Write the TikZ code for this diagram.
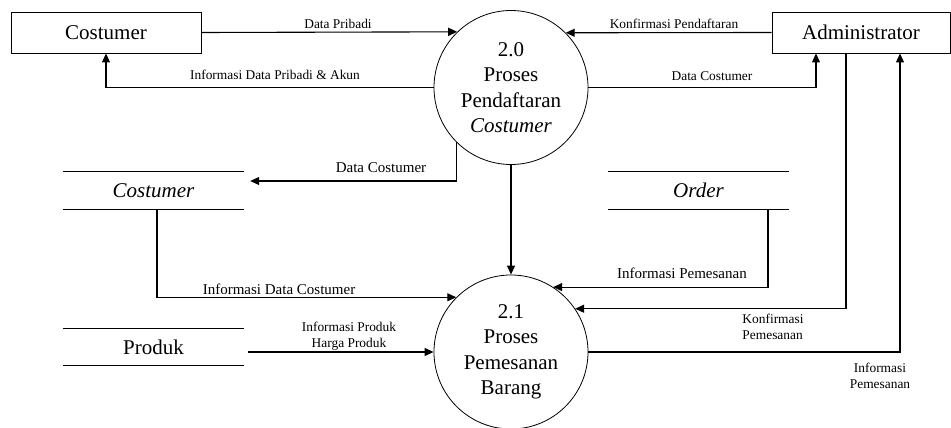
\documentclass[tikz,border=0pt]{standalone}
\usepackage{fontspec}
\setmainfont{Liberation Serif}
\usetikzlibrary{arrows.meta,calc}

\tikzset{
  big/.style={font=\fontsize{21}{25.5}\selectfont},
  lbl/.style={font=\fontsize{13.4}{16.5}\selectfont, inner sep=0pt, align=center},
  lblm/.style={font=\fontsize{15}{18}\selectfont, inner sep=0pt},
  entity/.style={draw, line width=0.9pt, minimum height=41pt, inner sep=0pt, big},
  proc/.style={draw, circle, line width=0.8pt, minimum size=154pt, inner sep=0pt, align=center, big},
  store/.style={minimum width=181pt, minimum height=37pt, inner sep=0pt, big},
  storeline/.style={line width=1pt},
  flow/.style={line width=1.1pt, -{Triangle[length=9pt,width=8pt]}},
}

\begin{document}
\begin{tikzpicture}[x=1pt,y=1pt]
  \useasboundingbox (0,0) rectangle (951,-428);

  % external entities
  \node[entity, minimum width=190pt] (cos) at (106,-32.5) {Costumer};
  \node[entity, minimum width=178pt] (adm) at (861,-32.5) {Administrator};

  % processes
  \node[proc] (p20) at (511,-87.5) {2.0\\Proses\\Pendaftaran\\\textit{Costumer}};
  \node[proc] (p21) at (511,-352) {2.1\\Proses\\Pemesanan\\Barang};

  % data stores
  \node[store] (cst) at (153.5,-190.5) {\textit{Costumer}};
  \node[store] (ord) at (698.5,-190.5) {\textit{Order}};
  \node[store] (prd) at (153.5,-347) {Produk};
  \foreach \s in {cst,ord,prd}{
    \draw[storeline] (\s.north west) -- (\s.north east)
                     (\s.south west) -- (\s.south east);
  }

  % flows around process 2.0
  \draw[flow] (cos.east) -- (p20.134.4);
  \draw[flow] (adm.west) -- (p20.45.6);
  \draw[flow] (p20.west) -| (cos.south);
  \draw[flow] (p20.east) -| ([xshift=-45pt]adm.south);
  \draw[flow] (p20.225.5) |- ([xshift=6pt,yshift=9.5pt]cst.east);
  \draw[flow] (p20.south) -- (p21.north);

  % flows around process 2.1
  \draw[flow] ([xshift=3.5pt]cst.south) |- (p21.135.5);
  \draw[flow] ([xshift=69.5pt]ord.south) |- (p21.57.6);
  \draw[flow] ([xshift=-15pt]adm.south) |- (p21.34.8);
  \draw[flow] ([xshift=4pt]prd.east |- p21.west) -- (p21.west);
  \draw[flow] (p21.east) -| ([xshift=39pt]adm.south);

  % flow labels
  \node[lbl] (l1) at (338,-24) {Data Pribadi};
  \node[lbl] (l2) at (674,-24) {Konfirmasi Pendaftaran};
  \node[lbl] (l3) at (275,-75) {Informasi Data Pribadi \& Akun};
  \node[lbl] (l4) at (712,-76) {Data Costumer};
  \node[lblm] (l5) at (381,-168) {Data Costumer};
  \node[lblm] (l6) at (279,-289) {Informasi Data Costumer};
  \node[lblm] (l7) at (682,-273) {Informasi Pemesanan};
  \node[lbl] (l8) at (349,-336) {Informasi Produk\\Harga Produk};
  \node[lbl, align=left] (l9) at (773,-327) {Konfirmasi\\Pemesanan};
  \node[lbl] (l10) at (880,-376) {Informasi\\Pemesanan};
\end{tikzpicture}
\end{document}
